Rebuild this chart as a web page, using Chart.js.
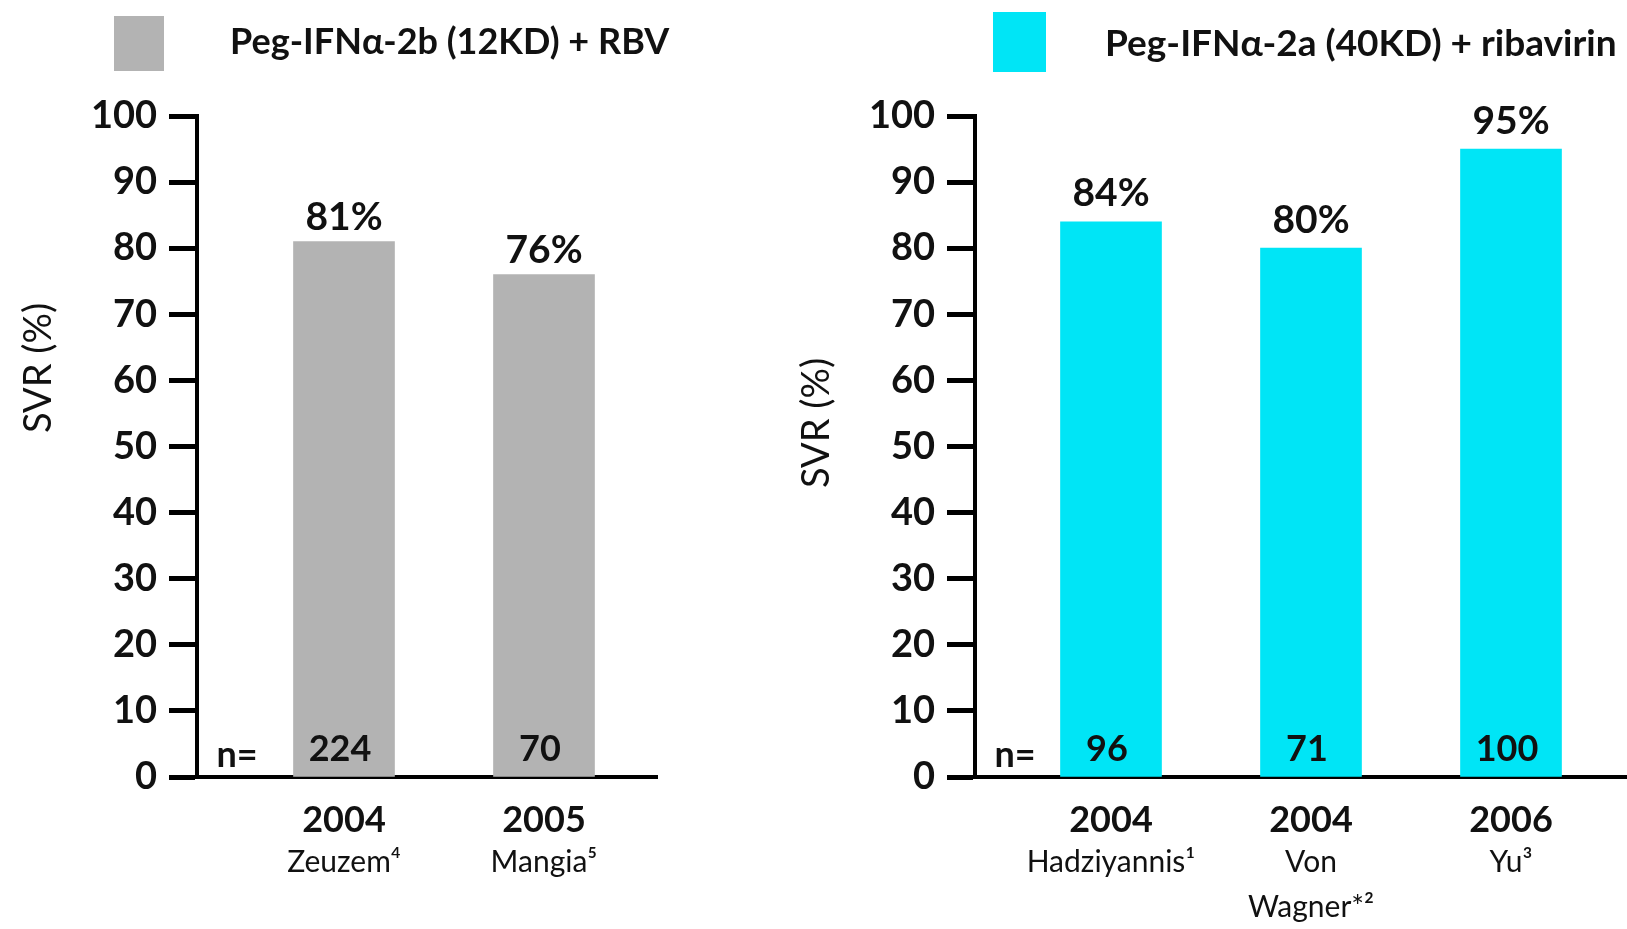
<!DOCTYPE html>
<html>
<head>
<meta charset="utf-8">
<title>SVR by study</title>
<script src="https://cdn.jsdelivr.net/npm/chart.js@4.4.1/dist/chart.umd.min.js"></script>
<style>
  body { margin: 0; background: #fff; }
  #wrap { position: relative; width: 1627px; height: 929px; overflow: hidden; }
  canvas { position: absolute; top: 0; }
  #leftChart { left: 0; }
  #rightChart { left: 740px; }
</style>
</head>
<body>
<div id="wrap">
  <canvas id="leftChart" width="700" height="929"></canvas>
  <canvas id="rightChart" width="887" height="929"></canvas>
</div>
<script>
// Left panel - Peg-IFN alfa-2b
const leftSeries = "Peg-IFNα-2b (12KD) + RBV";
const leftYears = ["2004", "2005"];
const leftStudies = ["Zeuzem⁴", "Mangia⁵"];
const leftSvr = [81, 76];
const leftN = [224, 70];

// Right panel - Peg-IFN alfa-2a
const rightSeries = "Peg-IFNα-2a (40KD) + ribavirin";
const rightYears = ["2004", "2004", "2006"];
const rightStudies = ["Hadziyannis¹", ["Von", "Wagner*²"], "Yu³"];
const rightSvr = [84, 80, 95];
const rightN = [96, 71, 100];

const yTitle = "SVR (%)";

Chart.defaults.font.family = "Lato, 'Open Sans', sans-serif";
Chart.defaults.color = "#111";

// labels, legend and n= drawn on top of the bars
function decor(p) {
  return {
    id: "decor",
    afterDatasetsDraw(chart) {
      const ctx = chart.ctx;
      const ds = chart.data.datasets[0];
      const meta = chart.getDatasetMeta(0);
      const zeroY = chart.scales.y.getPixelForValue(0);
      ctx.save();
      ctx.fillStyle = "#111";
      ctx.textAlign = "center";
      ctx.textBaseline = "middle";

      ctx.font = "bold 39px Lato";
      meta.data.forEach((bar, i) => {
        ctx.fillText(p.svr[i] + "%", bar.x, bar.y - p.pctOffset);
      });

      ctx.font = "bold 36px Lato";
      meta.data.forEach((bar, i) => {
        ctx.fillText(String(p.n[i]), bar.x - 4, zeroY - p.nOffset);
      });
      ctx.fillText("n=", p.nEqX, zeroY - 22);

      // legend
      ctx.fillStyle = ds.backgroundColor;
      ctx.fillRect(p.box[0], p.box[1], p.box[2], p.box[3]);
      ctx.fillStyle = "#111";
      ctx.textAlign = "left";
      ctx.font = "bold " + p.legendSize + "px Lato";
      ctx.fillText(ds.label, p.legendX, p.legendY);

      // y title
      ctx.translate(p.titleX, p.titleY);
      ctx.rotate(-Math.PI / 2);
      ctx.textAlign = "center";
      ctx.font = "38px Lato";
      ctx.fillText(yTitle, 0, 0);
      ctx.restore();
    }
  };
}

function makePanel(id, p) {
  const pickTicks = (s) => { s.ticks = p.years.map((_, i) => ({ value: i })); };
  return new Chart(document.getElementById(id), {
    type: "bar",
    data: {
      datasets: [{
        label: p.series,
        data: p.svr.map((v, i) => ({ x: i, y: v })),
        backgroundColor: p.color,
        barThickness: 101
      }]
    },
    options: {
      responsive: false,
      animation: false,
      layout: { padding: { top: 116, right: p.padRight, bottom: 0, left: 0 } },
      scales: {
        x: {
          type: "linear",
          offset: false,
          min: p.xMin,
          max: p.xMax,
          afterBuildTicks: pickTicks,
          afterFit: (s) => { s.height = 62; },
          ticks: {
            callback: (v) => p.years[v],
            font: { size: 36, weight: "bold" },
            padding: 14,
            autoSkip: false,
            maxRotation: 0
          },
          grid: { display: false },
          border: { display: true, color: "#000", width: 4 }
        },
        x2: {
          type: "linear",
          position: "bottom",
          offset: false,
          min: p.xMin,
          max: p.xMax,
          afterBuildTicks: pickTicks,
          afterFit: (s) => { s.height = 90; },
          ticks: {
            callback: (v) => p.studies[v],
            font: { size: 30, lineHeight: 1.5 },
            padding: -7,
            autoSkip: false,
            maxRotation: 0
          },
          grid: { display: false },
          border: { display: false }
        },
        y: {
          min: 0,
          max: 100,
          afterFit: (s) => { s.width = p.yWidth; },
          ticks: { stepSize: 10, font: { size: 38, weight: "bold" }, padding: 12 },
          grid: { drawOnChartArea: false, tickLength: 28, tickWidth: 5, tickColor: "#000" },
          border: { display: true, color: "#000", width: 4 }
        }
      },
      plugins: { legend: { display: false }, tooltip: { enabled: false } }
    },
    plugins: [decor(p)]
  });
}

makePanel("leftChart", {
  series: leftSeries, years: leftYears, studies: leftStudies, svr: leftSvr, n: leftN,
  color: "#b3b3b3", xMin: -0.735, xMax: 1.565, yWidth: 197, padRight: 43,
  pctOffset: 24, nOffset: 28, nEqX: 237, box: [114, 16, 50, 55], legendX: 230, legendY: 42, legendSize: 36,
  titleX: 39, titleY: 368
});

makePanel("rightChart", {
  series: rightSeries, years: rightYears, studies: rightStudies, svr: rightSvr, n: rightN,
  color: "#00e5f6", xMin: -0.68, xMax: 2.58, yWidth: 235, padRight: 0,
  pctOffset: 28, nOffset: 28, nEqX: 275, box: [253, 12, 53, 60], legendX: 365, legendY: 44, legendSize: 37,
  titleX: 77, titleY: 423
});
</script>
</body>
</html>
